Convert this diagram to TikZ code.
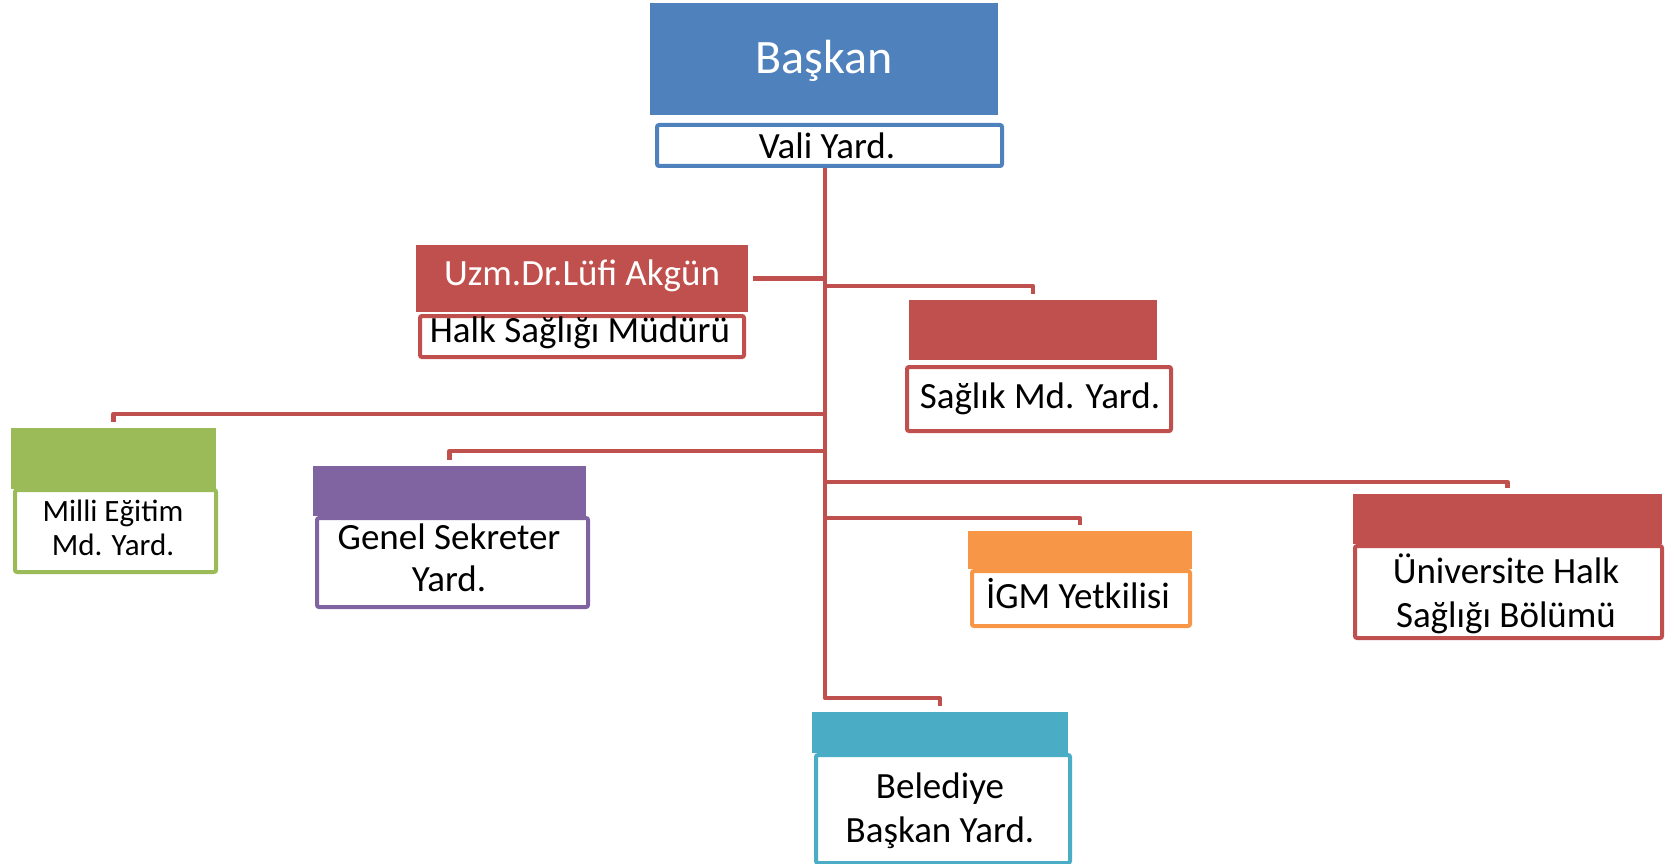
\documentclass[tikz,border=0pt]{standalone}
\usepackage{fontspec}
\setmainfont{Carlito}
\definecolor{cblue}{HTML}{4F81BD}
\definecolor{cred}{HTML}{C0504D}
\definecolor{cgreen}{HTML}{9BBB59}
\definecolor{cpurple}{HTML}{8064A2}
\definecolor{corange}{HTML}{F79646}
\definecolor{cteal}{HTML}{4BACC6}
\begin{document}
\begin{tikzpicture}[x=1pt,y=-1pt,
  topbox/.style={fill=#1, draw=none, inner sep=0pt, outer sep=0pt, anchor=north west},
  lowbox/.style={fill=white, draw=#1, line width=4pt, rounded corners=2pt, inner sep=0pt, anchor=north west},
  conn/.style={draw=cred, line width=4.5pt, line join=round},
  txt/.style={inner sep=0pt, anchor=base, align=center, font=\fontsize{37}{44}\selectfont},
  wtxt/.style={txt, text=white}]
\useasboundingbox (0,0) rectangle (1674,864);

% boxes
\node[topbox=cblue, minimum width=348pt, minimum height=112pt] (baskan) at (650,3) {};
\node[lowbox=cblue, minimum width=345pt, minimum height=41pt] (vali) at (655,123) {};

\node[topbox=cred, minimum width=332pt, minimum height=67pt] (uzm) at (416,245) {};
\node[lowbox=cred, minimum width=324pt, minimum height=41pt] (halk) at (418,314) {};

\node[topbox=cred, minimum width=248pt, minimum height=60pt] (saglikTop) at (909,300) {};
\node[lowbox=cred, minimum width=264pt, minimum height=64pt] (saglik) at (905,365) {};

\node[topbox=cgreen, minimum width=205pt, minimum height=61pt] (milliTop) at (11,428) {};
\node[lowbox=cgreen, minimum width=201pt, minimum height=82pt] (milli) at (13,488) {};

\node[topbox=cpurple, minimum width=273pt, minimum height=50pt] (genelTop) at (313,466) {};
\node[lowbox=cpurple, minimum width=271pt, minimum height=89pt] (genel) at (315,516) {};

\node[topbox=corange, minimum width=224pt, minimum height=38pt] (igmTop) at (968,531) {};
\node[lowbox=corange, minimum width=218pt, minimum height=55pt] (igm) at (970,569) {};

\node[topbox=cred, minimum width=309pt, minimum height=50pt] (uniTop) at (1353,494) {};
\node[lowbox=cred, minimum width=307pt, minimum height=92pt] (uni) at (1353,544) {};

\node[topbox=cteal, minimum width=256pt, minimum height=41pt] (belTop) at (812,712) {};
\node[lowbox=cteal, minimum width=254pt, minimum height=108pt] (bel) at (814,753) {};

% texts (anchor base = baseline of last line)
\node[wtxt, font=\fontsize{48}{52}\selectfont] (baskanT) at (824,74) {Başkan};
\node[txt] (valiT) at (827,159) {Vali Yard.};
\node[wtxt] (uzmT) at (582,285) {Uzm.Dr.Lüfi Akgün};
\node[txt] (halkT) at (580,342) {Halk Sağlığı Müdürü};
\node[txt] (saglikT) at (1040,408) {Sağlık Md. Yard.};
\node[txt, font=\fontsize{31}{34}\selectfont] (milliT) at (113,555) {Milli Eğitim\\Md. Yard.};
\node[txt, font=\fontsize{37}{42}\selectfont] (genelT) at (449,591) {Genel Sekreter\\Yard.};
\node[txt] (igmT) at (1078,608) {İGM Yetkilisi};
\node[txt] (uniT) at (1506,627) {Üniversite Halk\\Sağlığı Bölümü};
\node[txt] (belT) at (940,842) {Belediye\\Başkan Yard.};

% connectors
\coordinate (trunkTop) at ([xshift=-4.5pt]vali.south);
\coordinate (trunkEnd) at (trunkTop |- 0,698);
\draw[conn] (trunkTop) -- (trunkEnd) -| ([yshift=6pt]belTop.north);
\draw[conn] ([xshift=5pt]uzm.east) -- (uzm.east -| trunkTop);
\draw[conn] (trunkTop |- 0,286) -| ([yshift=6pt]saglikTop.north);
\draw[conn] (trunkTop |- 0,414) -| ([yshift=6pt]milliTop.north);
\draw[conn] (trunkTop |- 0,451) -| ([yshift=6pt]genelTop.north);
\draw[conn] (trunkTop |- 0,482) -| ([yshift=6pt]uniTop.north);
\draw[conn] (trunkTop |- 0,518) -| ([yshift=6pt]igmTop.north);
\end{tikzpicture}
\end{document}
